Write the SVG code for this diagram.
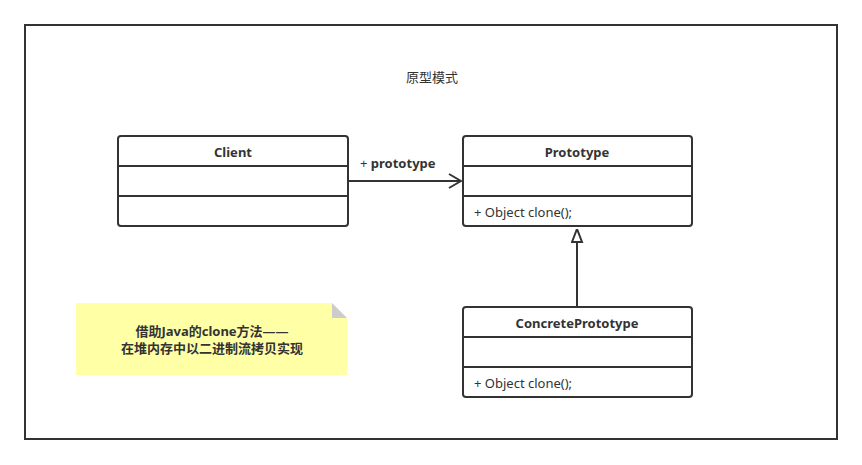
<svg xmlns="http://www.w3.org/2000/svg" width="862" height="465" viewBox="0 0 862 465">
<defs>
<style>
text{font-family:"Noto Sans","Noto Sans CJK SC",sans-serif;font-size:13px;fill:#333}
.b{font-weight:bold}
.box{fill:#fff;stroke:#333;stroke-width:2}
.ln{stroke:#333;stroke-width:2;fill:none}
</style>
<marker id="open" markerWidth="14" markerHeight="16" refX="13" refY="8" orient="auto" markerUnits="userSpaceOnUse">
<path d="M1,1 L13,8 L1,15" fill="none" stroke="#333" stroke-width="2"/>
</marker>
<marker id="tri" markerWidth="14" markerHeight="18" refX="14" refY="6" orient="auto" markerUnits="userSpaceOnUse">
<path d="M1,1 L14,6 L1,11 Z" fill="#fff" stroke="#333" stroke-width="2"/>
</marker>
</defs>
<rect width="862" height="465" fill="#fff"/>
<rect x="25" y="25" width="812" height="414" fill="none" stroke="#333" stroke-width="2"/>
<text x="432" y="82" text-anchor="middle">原型模式</text>
<g id="connectors">
<line class="ln" x1="348" y1="181" x2="461" y2="181" marker-end="url(#open)"/>
<text x="360" y="168"><tspan>+ </tspan><tspan class="b">prototype</tspan></text>
<line class="ln" x1="577" y1="307" x2="577" y2="229" marker-end="url(#tri)"/>
</g>
<g id="client">
<rect class="box" x="118" y="136" width="230" height="90" rx="3"/>
<line class="ln" x1="118" y1="166" x2="348" y2="166"/>
<line class="ln" x1="118" y1="196" x2="348" y2="196"/>
<text class="b" x="233" y="157" text-anchor="middle">Client</text>
</g>
<g id="prototype">
<rect class="box" x="463" y="136" width="229" height="90" rx="3"/>
<line class="ln" x1="463" y1="166" x2="692" y2="166"/>
<line class="ln" x1="463" y1="196" x2="692" y2="196"/>
<text class="b" x="577" y="157" text-anchor="middle">Prototype</text>
<text x="474" y="217">+ Object clone();</text>
</g>
<g id="concrete">
<rect class="box" x="463" y="307" width="229" height="90" rx="3"/>
<line class="ln" x1="463" y1="337" x2="692" y2="337"/>
<line class="ln" x1="463" y1="367" x2="692" y2="367"/>
<text class="b" x="577" y="328" text-anchor="middle">ConcretePrototype</text>
<text x="474" y="388">+ Object clone();</text>
</g>
<g id="note">
<path d="M76,303 L332,303 L347,318 L347,375 L76,375 Z" fill="#ffffa6"/>
<path d="M332,303 L347,318 L332,318 Z" fill="#ccc"/>
<text class="b" x="212" y="336" text-anchor="middle">借助Java的clone方法——</text>
<text class="b" x="212" y="353" text-anchor="middle">在堆内存中以二进制流拷贝实现</text>
</g>
</svg>
